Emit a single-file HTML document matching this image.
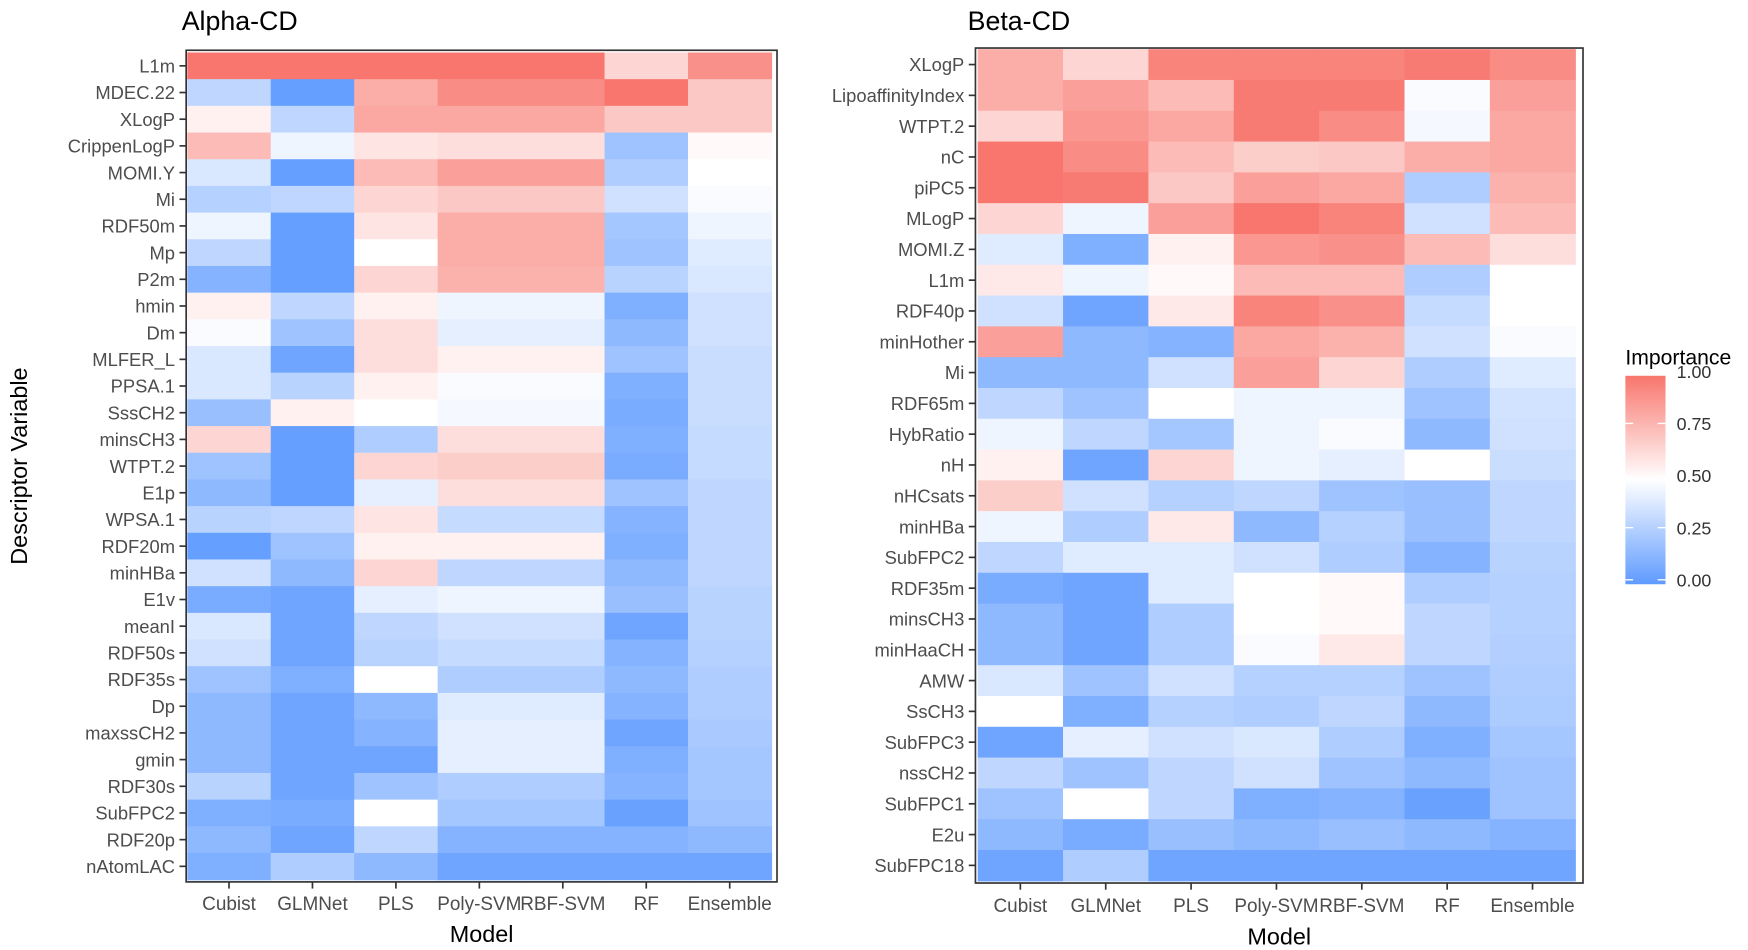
<!DOCTYPE html>
<html><head><meta charset="utf-8">
<style>
html,body{margin:0;padding:0;background:#fff;}
svg{display:block;font-family:"Liberation Sans",Arial,sans-serif;}
</style></head>
<body>
<svg id="chart" width="1748" height="950" viewBox="0 0 1568 852" xmlns="http://www.w3.org/2000/svg">
<defs>
<linearGradient id="cbar" x1="0" y1="1" x2="0" y2="0">
<stop offset="0" stop-color="#5F9BFF"/><stop offset="0.5" stop-color="#FFFFFF"/><stop offset="1" stop-color="#F8766D"/>
</linearGradient>
</defs>
<g id="alpha"></g>
<g id="beta"></g>
<text x="24" y="418" font-size="21" fill="#000" text-anchor="middle" transform="rotate(-90 24 418)">Descriptor Variable</text>
<g>
<text x="1458" y="327" font-size="19" fill="#000">Importance</text>
<rect x="1458" y="337" width="36" height="187" fill="url(#cbar)"/>
<g id="legTicks"></g>
</g>
</svg>
<script>
const models = ["Cubist","GLMNet","PLS","Poly-SVM","RBF-SVM","RF","Ensemble"];
const alphaRows = ["L1m","MDEC.22","XLogP","CrippenLogP","MOMI.Y","Mi","RDF50m","Mp","P2m","hmin","Dm","MLFER_L","PPSA.1","SssCH2","minsCH3","WTPT.2","E1p","WPSA.1","RDF20m","minHBa","E1v","meanI","RDF50s","RDF35s","Dp","maxssCH2","gmin","RDF30s","SubFPC2","RDF20p","nAtomLAC"];
const alphaValues = [
[1,1,1,1,1,0.65,0.9],
[0.3,0.02,0.8,0.92,0.92,1,0.7],
[0.55,0.3,0.82,0.82,0.82,0.7,0.7],
[0.75,0.45,0.6,0.62,0.62,0.2,0.52],
[0.38,0.02,0.75,0.85,0.85,0.25,0.5],
[0.27,0.3,0.65,0.7,0.7,0.35,0.48],
[0.45,0.02,0.6,0.8,0.8,0.22,0.45],
[0.3,0.02,0.5,0.8,0.8,0.2,0.4],
[0.12,0.02,0.65,0.78,0.78,0.28,0.38],
[0.55,0.3,0.55,0.45,0.45,0.1,0.35],
[0.48,0.2,0.62,0.42,0.42,0.15,0.35],
[0.38,0.05,0.62,0.55,0.55,0.2,0.33],
[0.38,0.28,0.55,0.48,0.48,0.1,0.33],
[0.18,0.55,0.5,0.47,0.47,0.08,0.33],
[0.65,0.02,0.25,0.62,0.62,0.1,0.32],
[0.2,0.02,0.65,0.68,0.68,0.08,0.32],
[0.15,0.02,0.42,0.62,0.62,0.2,0.3],
[0.28,0.3,0.6,0.32,0.32,0.12,0.3],
[0.02,0.2,0.55,0.55,0.55,0.1,0.3],
[0.35,0.15,0.65,0.3,0.3,0.15,0.3],
[0.08,0.05,0.42,0.45,0.45,0.18,0.28],
[0.38,0.05,0.3,0.35,0.35,0.05,0.28],
[0.35,0.05,0.28,0.32,0.32,0.12,0.27],
[0.2,0.1,0.5,0.25,0.25,0.15,0.25],
[0.15,0.05,0.15,0.4,0.4,0.12,0.25],
[0.15,0.05,0.12,0.42,0.42,0.05,0.23],
[0.15,0.05,0.05,0.42,0.42,0.1,0.22],
[0.28,0.05,0.2,0.25,0.25,0.12,0.22],
[0.1,0.08,0.5,0.22,0.22,0.03,0.2],
[0.15,0.05,0.3,0.12,0.12,0.12,0.15],
[0.1,0.25,0.15,0.05,0.05,0.05,0.05]];
const betaRows = ["XLogP","LipoaffinityIndex","WTPT.2","nC","piPC5","MLogP","MOMI.Z","L1m","RDF40p","minHother","Mi","RDF65m","HybRatio","nH","nHCsats","minHBa","SubFPC2","RDF35m","minsCH3","minHaaCH","AMW","SsCH3","SubFPC3","nssCH2","SubFPC1","E2u","SubFPC18"];
const betaValues = [
[0.8,0.65,0.95,0.95,0.95,0.98,0.92],
[0.8,0.85,0.75,0.98,0.98,0.48,0.85],
[0.65,0.88,0.82,0.98,0.92,0.47,0.82],
[1,0.92,0.75,0.68,0.7,0.8,0.82],
[1,0.98,0.7,0.85,0.82,0.25,0.78],
[0.65,0.45,0.85,1,0.95,0.35,0.75],
[0.4,0.1,0.55,0.88,0.9,0.75,0.62],
[0.58,0.45,0.52,0.75,0.75,0.25,0.5],
[0.35,0.05,0.58,0.95,0.9,0.32,0.5],
[0.85,0.15,0.12,0.82,0.78,0.35,0.48],
[0.15,0.15,0.35,0.85,0.65,0.25,0.4],
[0.3,0.2,0.5,0.45,0.45,0.2,0.36],
[0.45,0.3,0.22,0.45,0.48,0.15,0.35],
[0.55,0.05,0.65,0.45,0.42,0.5,0.33],
[0.68,0.35,0.27,0.3,0.2,0.18,0.3],
[0.45,0.25,0.58,0.15,0.27,0.18,0.3],
[0.3,0.4,0.4,0.35,0.25,0.12,0.28],
[0.08,0.05,0.4,0.5,0.52,0.25,0.27],
[0.15,0.05,0.25,0.5,0.52,0.3,0.27],
[0.15,0.05,0.25,0.48,0.58,0.3,0.26],
[0.38,0.2,0.35,0.27,0.27,0.2,0.25],
[0.5,0.1,0.27,0.25,0.3,0.15,0.24],
[0.05,0.42,0.35,0.38,0.25,0.1,0.22],
[0.3,0.2,0.3,0.35,0.2,0.15,0.2],
[0.2,0.5,0.3,0.1,0.12,0.03,0.2],
[0.15,0.08,0.18,0.15,0.18,0.15,0.12],
[0.05,0.25,0.05,0.05,0.05,0.05,0.05]];
const legendTicks = [0,0.25,0.5,0.75,1];

const NS = "http://www.w3.org/2000/svg";
function mk(tag, attrs, parent){const e=document.createElementNS(NS,tag);for(const k in attrs)e.setAttribute(k,attrs[k]);parent.appendChild(e);return e;}
function color(v){
  const lo=[95,155,255], mid=[255,255,255], hi=[248,118,109];
  let a,b,t;
  if(v<0.5){a=lo;b=mid;t=v/0.5;}else{a=mid;b=hi;t=(v-0.5)/0.5;}
  const c=a.map((x,i)=>Math.round(x+(b[i]-x)*t));
  return `rgb(${c[0]},${c[1]},${c[2]})`;
}
function panel(g, title, rows, vals, box, tileBox, labelX, xLabelY, titleX){
  const t=mk("text",{x:titleX,y:27,"font-size":24,fill:"#000"},g);
  
  
  t.textContent=title;
  const cw=(tileBox.x1-tileBox.x0)/models.length;
  const rh=(tileBox.y1-tileBox.y0)/rows.length;
  const xs=j=>tileBox.x0+j*cw;
  const ys=i=>tileBox.y0+i*rh;
  rows.forEach((r,i)=>{
    models.forEach((m,j)=>{
      const c=mk("rect",{x:xs(j),y:ys(i),width:cw+0.6,height:rh+0.6,fill:color(vals[i][j])},g);
      
      
    });
    const cy=ys(i)+rh/2;
    mk("line",{x1:box.x0-6,x2:box.x0,y1:cy,y2:cy,stroke:"#333","stroke-width":1.5},g);
    const l=mk("text",{x:labelX,y:cy+6,"font-size":16.5,fill:"#4d4d4d","text-anchor":"end"},g);
    
    
    l.textContent=r;
  });
  models.forEach((m,j)=>{
    const cx=xs(j)+cw/2;
    mk("line",{x1:cx,x2:cx,y1:box.y1,y2:box.y1+6,stroke:"#333","stroke-width":1.5},g);
    const l=mk("text",{x:cx,y:xLabelY,"font-size":17,fill:"#4d4d4d","text-anchor":"middle"},g);
    
    
    l.textContent=m;
  });
  const b=mk("rect",{x:box.x0,y:box.y0,width:box.x1-box.x0,height:box.y1-box.y0,fill:"none",stroke:"#333","stroke-width":1.5},g);
  
  
  const xt=mk("text",{x:(box.x0+box.x1)/2,y:xLabelY+29,"font-size":21,fill:"#000","text-anchor":"middle"},g);
  
  
  xt.textContent="Model";
}
panel(document.getElementById('alpha'),"Alpha-CD",alphaRows,alphaValues,
  {x0:167,y0:45,x1:697,y1:791},{x0:168,y0:47,x1:692,y1:789},157,816,163);
panel(document.getElementById('beta'),"Beta-CD",betaRows,betaValues,
  {x0:875,y0:43,x1:1420,y1:792},{x0:877,y0:44,x1:1413,y1:790},865,818,868);
const lt=document.getElementById('legTicks');
legendTicks.forEach(v=>{
  const y=520-v*187/1.0*(1);
  const yy=524-4-v*(520-333);
  mk("line",{x1:1458,x2:1465,y1:yy,y2:yy,stroke:"#fff","stroke-width":1.2},lt);
  mk("line",{x1:1487,x2:1494,y1:yy,y2:yy,stroke:"#fff","stroke-width":1.2},lt);
  const t=mk("text",{x:1504,y:yy+6,"font-size":16,fill:"#333"},lt);
  
  
  t.textContent=v.toFixed(2);
});
</script>
</body></html>
